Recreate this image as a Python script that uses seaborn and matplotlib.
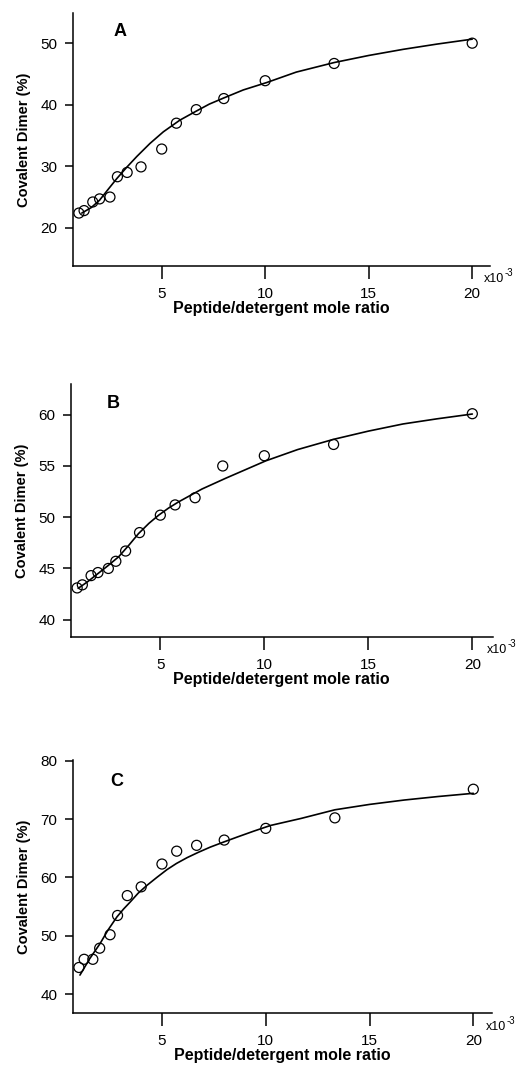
import matplotlib
matplotlib.use("Agg")
import matplotlib.pyplot as plt
import numpy as np
import seaborn as sns
import pandas as pd

# ===== data =====
ratio = [1.0, 1.25, 1.67, 2.0, 2.5, 2.86, 3.33, 4.0, 5.0, 5.71, 6.67, 8.0, 10.0, 13.33, 20.0]

dimer_a = [22.4, 22.8, 24.2, 24.7, 25.0, 28.3, 29.0, 29.9, 32.8, 37.0, 39.2, 41.0, 43.9, 46.7, 50.0]
dimer_b = [43.1, 43.4, 44.3, 44.6, 45.0, 45.7, 46.7, 48.5, 50.2, 51.2, 51.9, 55.0, 56.0, 57.1, 60.1]
dimer_c = [44.6, 46.0, 46.0, 47.9, 50.2, 53.5, 56.9, 58.4, 62.3, 64.5, 65.5, 66.4, 68.4, 70.2, 75.1]

# fitted curves
fit_x_a = [1.14, 1.6, 2.0, 2.4, 2.83, 3.3, 3.8, 4.43, 5.08, 5.88, 6.69, 7.3, 8.0, 8.94, 10.07,
           11.5, 13.33, 15.0, 16.67, 18.3, 20.0]
fit_a = [22.4, 23.3, 24.5, 26.2, 28.0, 29.8, 31.6, 33.7, 35.6, 37.5, 39.0, 40.1, 41.1, 42.4, 43.6,
         45.3, 46.85, 48.0, 49.0, 49.85, 50.65]

fit_x_b = [1.05, 1.5, 2.0, 2.5, 3.0, 3.5, 3.95, 4.45, 4.92, 5.4, 5.88, 7.0, 8.14, 10.07, 11.6,
           13.33, 15.0, 16.67, 18.3, 20.0]
fit_b = [43.06, 43.7, 44.5, 45.3, 46.15, 47.3, 48.4, 49.4, 50.2, 50.9, 51.5, 52.75, 53.8, 55.5, 56.6,
         57.6, 58.4, 59.1, 59.6, 60.07]

fit_x_c = [1.05, 1.5, 2.02, 2.4, 2.83, 3.15, 3.47, 3.85, 4.28, 4.75, 5.24, 5.7, 6.21, 6.75, 7.33,
           8.0, 8.62, 9.4, 10.23, 11.7, 13.33, 15.0, 16.67, 18.3, 20.0]
fit_c = [43.3, 46.0, 48.7, 51.0, 53.25, 54.6, 55.8, 57.3, 58.66, 60.0, 61.34, 62.4, 63.39, 64.3, 65.2,
         66.1, 66.91, 67.9, 68.9, 70.1, 71.58, 72.5, 73.25, 73.85, 74.4]

panels = ['A', 'B', 'C']
x_ticks = [5, 10, 15, 20]
y_ticks = [[20, 30, 40, 50], [40, 45, 50, 55, 60], [40, 50, 60, 70, 80]]

# ===== style =====
sns.set_style("ticks")
plt.rcParams['font.family'] = ['Liberation Sans', 'DejaVu Sans']
plt.rcParams['text.color'] = 'black'
plt.rcParams['axes.labelcolor'] = 'black'
plt.rcParams['xtick.color'] = 'black'
plt.rcParams['ytick.color'] = 'black'
plt.rcParams['axes.linewidth'] = 1.1
plt.rcParams['axes.edgecolor'] = 'black'

fig = plt.figure(figsize=(5.2, 10.68), dpi=100)

# axes boxes in pixel coords: left, right, top, bottom
boxes = [(72.7, 490.0, 13.0, 266.0),
         (70.7, 492.7, 384.3, 636.7),
         (72.7, 492.0, 760.0, 1013.3)]
xlims = [(0.70, 20.86), (0.69, 20.98), (0.70, 20.90)]
ylims = [(13.8, 54.9), (38.34, 62.97), (36.76, 80.1)]
letter_pos = [(0.097, 0.926), (0.086, 0.922), (0.09, 0.914)]

data_sets = [(dimer_a, fit_x_a, fit_a), (dimer_b, fit_x_b, fit_b), (dimer_c, fit_x_c, fit_c)]

W, H = 520.0, 1068.0
for i in range(3):
    l, r, t, b = boxes[i]
    ax = fig.add_axes([l / W, 1 - b / H, (r - l) / W, (b - t) / H])
    pts, fx, fy = data_sets[i]
    df = pd.DataFrame({'ratio': ratio, 'dimer': pts})
    dfit = pd.DataFrame({'ratio': fx, 'dimer': fy})

    sns.lineplot(x='ratio', y='dimer', data=dfit, ax=ax, color='black', lw=1.2,
                 sort=False, estimator=None)
    sns.scatterplot(x='ratio', y='dimer', data=df, ax=ax, marker='o', s=52,
                    facecolor='none', edgecolor='black', linewidth=0.9, zorder=3)

    ax.set_xlim(*xlims[i])
    ax.set_ylim(*ylims[i])
    ax.set_xticks(x_ticks)
    ax.set_yticks(y_ticks[i])
    ax.tick_params(axis='x', length=9, width=1.1, labelsize=11, pad=6)
    ax.tick_params(axis='y', length=6, width=1.1, labelsize=11, pad=5)
    sns.despine(ax=ax)
    ax.set_ylabel('Covalent Dimer (%)', fontsize=10.5, fontweight='bold', labelpad=7)
    ax.set_xlabel('Peptide/detergent mole ratio', fontsize=11.5, fontweight='bold', labelpad=0)
    ax.text(letter_pos[i][0], letter_pos[i][1], panels[i], transform=ax.transAxes,
            fontsize=13, fontweight='bold', ha='left', va='center')

    # x10^-3 multiplier at the right end of the x axis
    fig.text((r - 6) / W, 1 - (b + 13.5) / H, 'x10', fontsize=9, ha='left', va='center')
    fig.text((r + 14.5) / W, 1 - (b + 7.5) / H, '-3', fontsize=7, ha='left', va='center')

fig.savefig('out.png', dpi=100)
